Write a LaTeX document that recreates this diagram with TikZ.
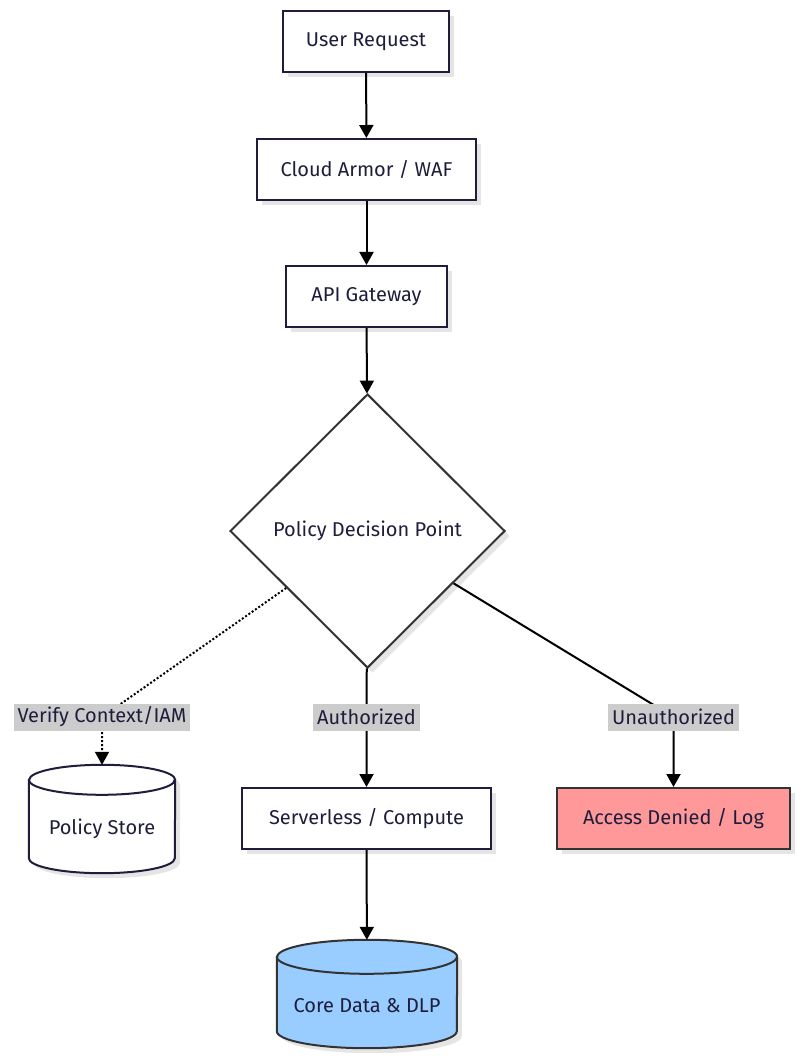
\documentclass[tikz,border=0pt]{standalone}
\usepackage{fontspec}
\setmainfont{Fira Sans}
\usetikzlibrary{shapes.geometric,arrows.meta,shadows}

\definecolor{ink}{HTML}{1E1E3C}
\definecolor{edgegray}{HTML}{333333}
\definecolor{labelbg}{HTML}{CCCCCC}
\definecolor{denyred}{HTML}{FF9999}
\definecolor{datablue}{HTML}{99CCFF}

\tikzset{
  txt/.style={font=\fontsize{20}{24}\selectfont, text=ink},
  shade/.style={drop shadow={shadow xshift=5pt, shadow yshift=-5pt, fill=black!10, opacity=1}},
  base/.style={txt, shade, line width=2pt},
  box/.style={base, draw=ink, fill=white, minimum height=61pt, inner sep=0pt},
  flow/.style={line width=2pt, -{Triangle[length=13pt,width=14pt]}},
  lab/.style={txt, fill=labelbg, inner xsep=4pt, inner ysep=2pt, minimum height=27pt}
}

% #1 look, #2 name, #3 centre, #4 width, #5 height, #6 end radius, #7 text
\newcommand\drum[7]{%
  \node[minimum width=#4, minimum height=#5, inner sep=0pt] (#2) at (#3) {};
  \draw[line width=2pt, shade, #1] ([yshift=-#6]#2.north west)
    -- ([yshift=#6]#2.south west)
    arc[start angle=180, end angle=360, x radius=#4/2, y radius=#6]
    -- ([yshift=-#6]#2.north east)
    arc[start angle=0, end angle=180, x radius=#4/2, y radius=#6] -- cycle;
  \draw[line width=2pt, #1, fill=none] ([yshift=-#6]#2.north west)
    arc[start angle=180, end angle=360, x radius=#4/2, y radius=#6];
  \node[txt] (#2-text) at ([yshift=-#6*2/3]#2.center) {#7};
}

\begin{document}
\begin{tikzpicture}[x=1pt,y=-1pt]
  \useasboundingbox (0,0) rectangle (800,1064);

  % main chain
  \node[box, minimum width=166pt] (user) at (366,41.5) {User Request};
  \node[box, minimum width=219pt] (waf)  at (366.5,169.5) {Cloud Armor / WAF};
  \node[box, minimum width=161pt] (gw)   at (366.5,296.5) {API Gateway};
  \node[base, draw=edgegray, fill=white, diamond, minimum width=275pt,
        minimum height=274pt, inner sep=0pt] (pdp) at (367.5,531) {Policy Decision Point};

  % targets below the decision
  \drum{draw=ink, fill=white}{pstore}{102,819}{146pt}{108pt}{15pt}{Policy Store}
  \node[box, minimum width=249pt] (svc)  at (366.5,818.5) {Serverless / Compute};
  \node[box, draw=edgegray, fill=denyred, minimum width=233pt] (deny) at (673.5,818.5) {Access Denied / Log};
  \drum{draw=edgegray, fill=datablue}{core}{367,994}{180pt}{108pt}{17pt}{Core Data \& DLP}

  % label corners
  \coordinate (vc) at (102,717);
  \coordinate (ac) at (366.5,717);
  \coordinate (uc) at (673.5,717);

  \draw[flow] (user) -- (waf);
  \draw[flow] (waf) -- (gw);
  \draw[flow] (gw) -- (pdp);
  \draw[flow, dash pattern=on 2pt off 2pt] (pdp) -- (vc) node[lab] {Verify Context/IAM} -- (pstore);
  \draw[flow] (pdp) -- (ac) node[lab] {Authorized} -- (svc);
  \draw[flow] (pdp) -- (uc) node[lab] {Unauthorized} -- (deny);
  \draw[flow] (svc) -- (core);
\end{tikzpicture}
\end{document}
